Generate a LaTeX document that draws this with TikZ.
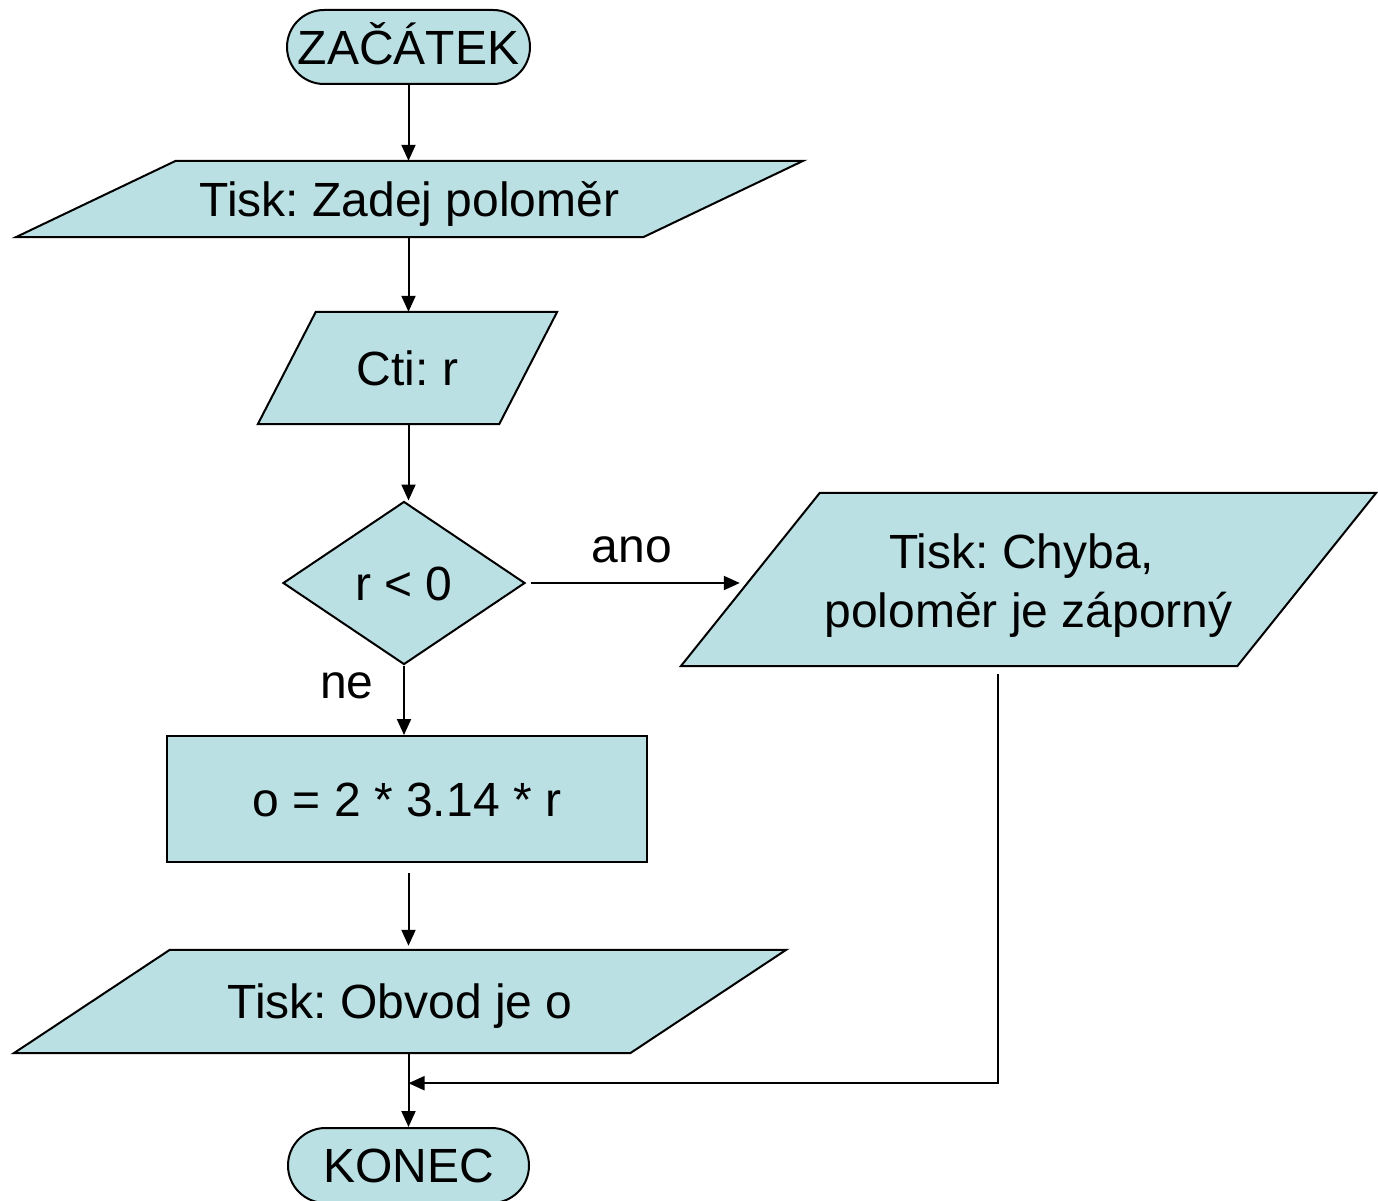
\documentclass[tikz,border=0pt]{standalone}
\usepackage{fontspec}
\setmainfont{Liberation Sans}
\frenchspacing
\usetikzlibrary{arrows.meta,shapes.geometric,shapes.misc,backgrounds}
\definecolor{boxfill}{RGB}{187,224,227}

% outline of a parallelogram drawn around an invisible frame node
\newcommand\paraoutline[2]{%
  \draw[shapeline] (#1.south west) -- ([xshift=#2]#1.north west)
    -- (#1.north east) -- ([xshift=-#2]#1.south east) -- cycle;}

\begin{document}
\begin{tikzpicture}[x=1pt,y=-1pt,
  every node/.style={font=\fontsize{48}{59}\selectfont, inner sep=0pt},
  oneline/.style={text height=34.4pt, text depth=0pt},
  shapeline/.style={draw=black, line width=2pt, fill=boxfill, line join=miter},
  term/.style={shapeline, oneline, rounded rectangle, minimum width=243pt, minimum height=74pt},
  slot/.style 2 args={minimum width=#1pt, minimum height=#2pt},
  arr/.style={line width=2pt, -{Triangle[length=16pt,width=14pt]}},
  lbl/.style={anchor=base}
]
\useasboundingbox (0,0) rectangle (1378,1201);

% flow steps
\node[term] (start) at (408.5,47) {ZAČÁTEK};
\node[oneline, slot={787}{76}] (p1) at (409.5,199) {Tisk: Zadej poloměr};
\node[oneline, slot={299}{112}] (p2) at (407.5,368) {Cti: r};
\node[shapeline, oneline, diamond, aspect=1.48, minimum width=242pt, minimum height=163pt] (d) at (404,583) {r < 0};
\node[slot={695}{173}] (p3) at (1028.5,579.5) {};
\node[align=center] (p3text) at (1028.5,585.5) {Tisk: Chyba,\kern0.28em\\poloměr je záporný};
\node[shapeline, oneline, minimum width=480pt, minimum height=126pt] (calc) at (407,799) {o = 2 * 3.14 * r};
\node[oneline, slot={772}{103}] (p4) at (400,1001.5) {Tisk: Obvod je o};
\node[term, minimum width=241pt, minimum height=75pt] (stop) at (408.5,1165.5) {KONEC};

% parallelogram outlines behind the texts
\begin{scope}[on background layer]
  \paraoutline{p1}{160pt}
  \paraoutline{p2}{58pt}
  \paraoutline{p3}{139pt}
  \paraoutline{p4}{156pt}
\end{scope}

% connectors
\draw[arr] (start.south) -- (start.south |- p1.north);
\draw[arr] (p1.south -| start.south) -- (p2.north -| start.south);
\draw[arr] (p2.south -| start.south) -- (d.north -| start.south);
\draw[arr] ([xshift=5pt]d.east) -- ([xshift=59pt]d.east -| p3.west);
\node[lbl] (yes) at (632,562) {ano};
\draw[arr] (d.south) -- (d.south |- calc.north);
\node[lbl] (no) at (347,698) {ne};
\draw[arr] ([yshift=-10pt]calc.south -| start.south) -- ([yshift=4pt]p4.north -| start.south);
\draw[arr] (p4.south -| stop.north) -- (stop.north);
\path (p4.south -| stop.north) ++(0,30) coordinate (join);
\draw[arr] ([xshift=-30.5pt,yshift=-8pt]p3.south) |- (join);
\end{tikzpicture}
\end{document}
